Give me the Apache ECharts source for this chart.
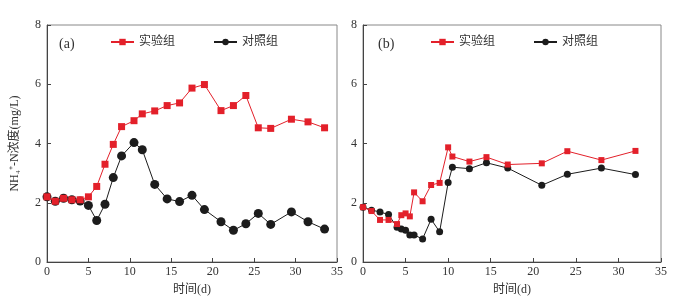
<!DOCTYPE html>
<html>
<head>
<meta charset="utf-8">
<script src="https://cdn.jsdelivr.net/npm/echarts@6/dist/echarts.min.js"></script>
<style>html,body{margin:0;padding:0;background:#fff}#c{width:687px;height:306px}</style>
</head>
<body>
<div id="c"></div>
<script>
// Panel (a)
const daysA = [0,1,2,3,4,5,6,7,8,9,10.5,11.5,13,14.5,16,17.5,19,21,22.5,24,25.5,27,29.5,31.5,33.5];
const expA  = [2.2,2.05,2.15,2.1,2.1,2.2,2.55,3.3,3.97,4.57,4.77,5.0,5.1,5.28,5.37,5.87,5.99,5.11,5.28,5.62,4.53,4.51,4.82,4.73,4.53];
const ctrlA = [2.2,2.05,2.15,2.1,2.06,1.91,1.40,1.95,2.85,3.58,4.03,3.79,2.62,2.13,2.04,2.25,1.77,1.36,1.07,1.29,1.64,1.27,1.69,1.36,1.11];
// Panel (b)
const daysB = [0,1,2,3,4,4.5,5,5.5,6,7,8,9,10,10.5,12.5,14.5,17,21,24,28,32];
const expB  = [1.85,1.72,1.42,1.42,1.28,1.58,1.64,1.54,2.35,2.05,2.60,2.67,3.87,3.56,3.39,3.54,3.29,3.33,3.74,3.44,3.75];
const ctrlB = [1.85,1.75,1.69,1.60,1.17,1.11,1.07,0.91,0.91,0.78,1.44,1.02,2.68,3.20,3.15,3.35,3.17,2.59,2.96,3.17,2.95];
const seriesNames = ['实验组','对照组'];
const panelLabels = ['(a)','(b)'];
const xTicks = {min:0, max:35, interval:5};
const yTicks = {min:0, max:8, interval:2};
const xName = '时间(d)';
const yName = 'NH\u2084\u207A-N浓度(mg/L)';

const RED = '#e3202a', BLACK = '#1c1c1c';
const serif = '"Liberation Serif","DejaVu Serif",serif';
const cjk = '"Liberation Serif","Noto Sans CJK SC",serif';

function zip(xs, ys){ return xs.map((x,i)=>[x, ys[i]]); }

function xAxis(gi){
  return {gridIndex:gi, type:'value', min:xTicks.min, max:xTicks.max, interval:xTicks.interval,
    name:xName, nameLocation:'middle', nameGap:22,
    nameTextStyle:{fontFamily:cjk, fontSize:12, color:'#333'},
    axisLine:{show:true, onZero:false, lineStyle:{color:'#444', width:1}},
    axisTick:{show:true, inside:true, length:4, lineStyle:{color:'#444'}},
    axisLabel:{fontFamily:serif, fontSize:12, color:'#333', margin:4},
    splitLine:{show:false}};
}
function yAxis(gi, withName){
  return {gridIndex:gi, type:'value', min:yTicks.min, max:yTicks.max, interval:yTicks.interval,
    name: withName ? yName : '', nameLocation:'middle', nameGap:26,
    nameTextStyle:{fontFamily:cjk, fontSize:12, color:'#333'},
    axisLine:{show:true, onZero:false, lineStyle:{color:'#444', width:1}},
    axisTick:{show:true, inside:true, length:4, lineStyle:{color:'#444'}},
    axisLabel:{fontFamily:serif, fontSize:12, color:'#333', margin:6},
    splitLine:{show:false}};
}
function lineSeries(name, gi, data, color, symbol, size, z){
  return {name, type:'line', xAxisIndex:gi, yAxisIndex:gi, data, symbol, symbolSize:size,
    showSymbol:true, lineStyle:{color, width:1}, itemStyle:{color, borderWidth:0}, z, animation:false};
}

const chart = echarts.init(document.getElementById('c'), null, {renderer:'canvas'});
chart.setOption({
  animation:false,
  backgroundColor:'#fff',
  grid:[
    {left:47, top:25, width:290, height:237, show:true, borderColor:'#888', borderWidth:1},
    {left:363, top:25, width:298, height:237, show:true, borderColor:'#888', borderWidth:1}
  ],
  title:[
    {text:panelLabels[0], left:54, top:32, textStyle:{fontFamily:serif, fontSize:14, fontWeight:'normal', color:'#333'}},
    {text:panelLabels[1], left:373, top:32, textStyle:{fontFamily:serif, fontSize:14, fontWeight:'normal', color:'#333'}}
  ],
  legend:[
    {left:105, top:31, itemWidth:23, itemHeight:8, itemGap:38, data:seriesNames,
      textStyle:{fontFamily:cjk, fontSize:12, color:'#333'}},
    {left:425, top:31, itemWidth:23, itemHeight:8, itemGap:38, data:seriesNames,
      textStyle:{fontFamily:cjk, fontSize:12, color:'#333'}}
  ],
  xAxis:[xAxis(0), xAxis(1)],
  yAxis:[yAxis(0,true), yAxis(1,false)],
  series:[
    lineSeries(seriesNames[1], 0, zip(daysA, ctrlA), BLACK, 'circle', 9, 2),
    lineSeries(seriesNames[0], 0, zip(daysA, expA), RED, 'rect', 7, 3),
    lineSeries(seriesNames[1], 1, zip(daysB, ctrlB), BLACK, 'circle', 7, 2),
    lineSeries(seriesNames[0], 1, zip(daysB, expB), RED, 'rect', 6, 3)
  ]
});
</script>
</body>
</html>
